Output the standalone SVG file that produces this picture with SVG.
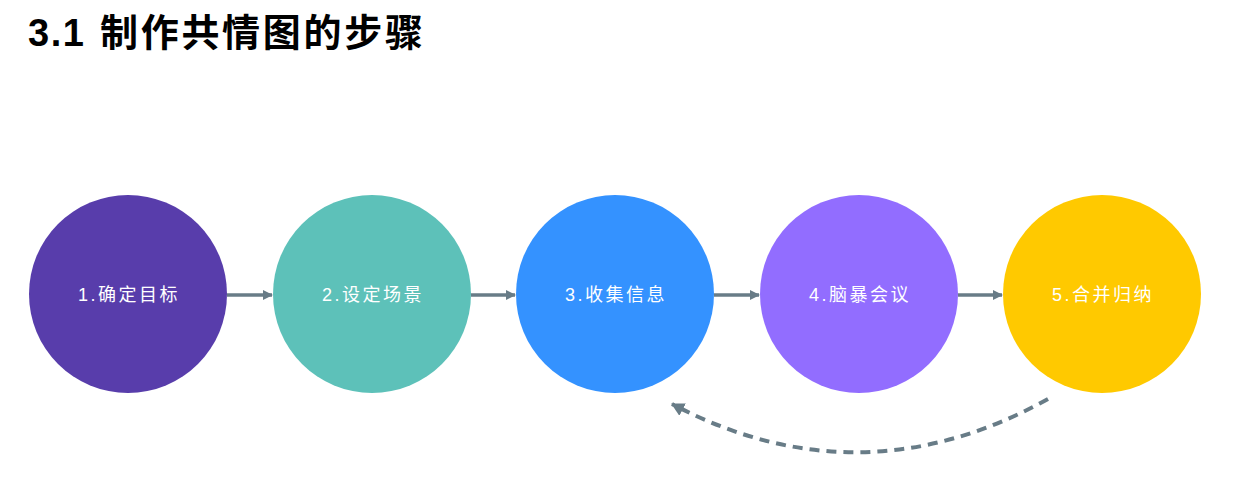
<svg xmlns="http://www.w3.org/2000/svg" width="1237" height="502" viewBox="0 0 1237 502">
<style>
.title{font-family:"Liberation Sans","Noto Sans CJK SC",sans-serif;font-size:38px;font-weight:bold;fill:#000}
.lbl{font-family:"Liberation Sans","Noto Sans CJK SC",sans-serif;font-size:18px;letter-spacing:2.5px;fill:#fff;text-anchor:middle;dominant-baseline:central}
.conn{stroke:#687c87;stroke-width:3.5;fill:none}
.dash{stroke:#687c87;stroke-width:4;fill:none;stroke-dasharray:10 7}
</style>
<defs>
<marker id="ah" markerWidth="10" markerHeight="10" refX="9" refY="5" orient="auto" markerUnits="userSpaceOnUse">
<path d="M0,0 L10,5 L0,10 Z" fill="#687c87"/>
</marker>
<marker id="ah2" markerWidth="14" markerHeight="14" refX="12" refY="7" orient="auto" markerUnits="userSpaceOnUse">
<path d="M0,0 L13,7 L0,14 Z" fill="#687c87"/>
</marker>
</defs>
<text class="title" y="46"><tspan x="28" letter-spacing="1.5">3.1</tspan><tspan x="100" letter-spacing="2.7">制作共情图的步骤</tspan></text>
<g id="connectors">
<line class="conn" x1="227" y1="295" x2="272" y2="295" marker-end="url(#ah)"/>
<line class="conn" x1="471" y1="295" x2="515" y2="295" marker-end="url(#ah)"/>
<line class="conn" x1="714" y1="295" x2="759" y2="295" marker-end="url(#ah)"/>
<line class="conn" x1="958" y1="295" x2="1002" y2="295" marker-end="url(#ah)"/>
<path class="dash" d="M1048,399 Q860,503 672,404" marker-end="url(#ah2)"/>
</g>
<g id="n1"><circle cx="128" cy="294" r="99" fill="#583dab"/><text class="lbl" x="129" y="295">1.确定目标</text></g>
<g id="n2"><circle cx="372" cy="294" r="99" fill="#5dc1b9"/><text class="lbl" x="373" y="295">2.设定场景</text></g>
<g id="n3"><circle cx="615" cy="294" r="99" fill="#3492ff"/><text class="lbl" x="616" y="295">3.收集信息</text></g>
<g id="n4"><circle cx="859" cy="294" r="99" fill="#926dff"/><text class="lbl" x="860" y="295">4.脑暴会议</text></g>
<g id="n5"><circle cx="1102" cy="294" r="99" fill="#ffc900"/><text class="lbl" x="1103" y="295">5.合并归纳</text></g>
</svg>
